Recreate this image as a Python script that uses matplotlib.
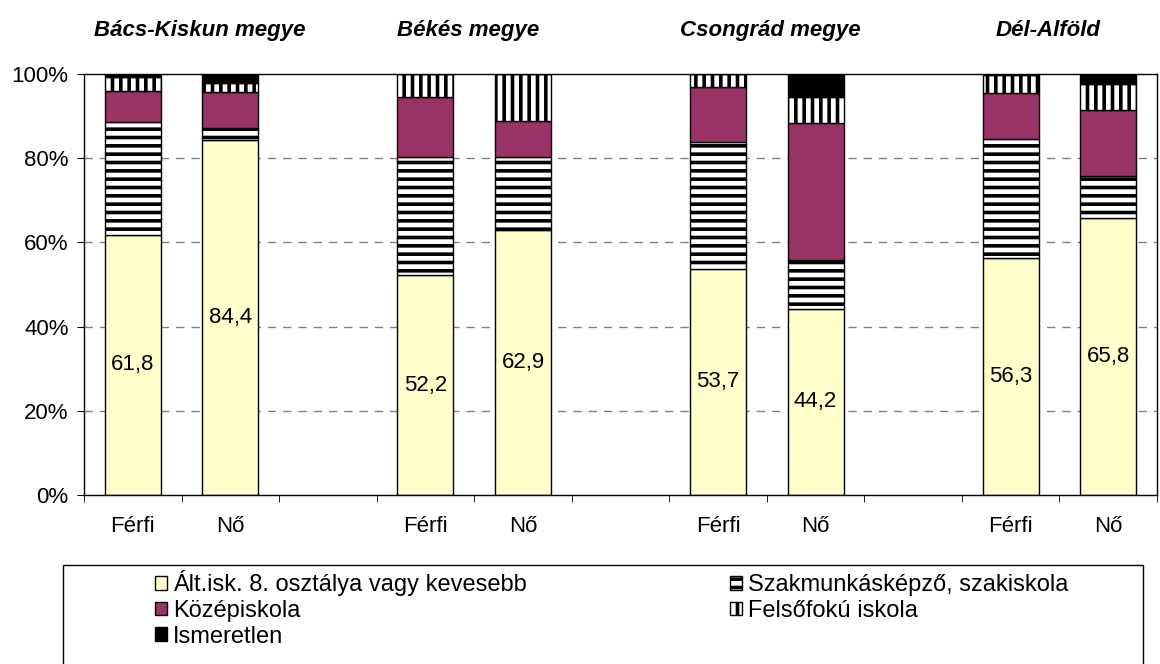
import matplotlib.pyplot as plt
from matplotlib.patches import Patch, Rectangle

plt.rcParams["font.family"] = ["Liberation Sans", "DejaVu Sans"]
plt.rcParams["hatch.linewidth"] = 2.6

regions = ["Bács-Kiskun megye", "Békés megye", "Csongrád megye", "Dél-Alföld"]
sexes = ["Férfi", "Nő"]
categories = [
    "Ált.isk. 8. osztálya vagy kevesebb",
    "Szakmunkásképző, szakiskola",
    "Középiskola",
    "Felsőfokú iskola",
    "Ismeretlen",
]

# percent shares, order: BK Férfi, BK Nő, Békés Férfi, Békés Nő, Csongrád Férfi, Csongrád Nő, DA Férfi, DA Nő
alt_isk = [61.8, 84.4, 52.2, 62.9, 53.7, 44.2, 56.3, 65.8]
szakmunkas = [26.9, 2.7, 28.2, 17.4, 30.2, 11.6, 28.3, 10.0]
kozep = [7.3, 8.6, 14.2, 8.5, 13.1, 32.5, 10.8, 15.6]
felso = [3.2, 2.1, 5.4, 11.2, 3.0, 6.3, 4.3, 6.2]
ismeretlen = [0.8, 2.2, 0.0, 0.0, 0.0, 5.4, 0.3, 2.4]

series = [alt_isk, szakmunkas, kozep, felso, ismeretlen]
colors = ["#FFFFCC", "white", "#993366", "white", "black"]
hatches = [None, "--", None, "||", None]

# bar slots: two bars per region, one empty slot between regions
x = []
for i in range(len(regions)):
    x += [3 * i, 3 * i + 1]

fig = plt.figure(figsize=(11.6, 6.64), dpi=100)
ax = fig.add_axes([84 / 1160, 1 - 495 / 664, 1073 / 1160, 421 / 664])

bottom = [0.0] * len(x)
for vals, col, h in zip(series, colors, hatches):
    ax.bar(x, vals, width=0.575, bottom=bottom, color=col, hatch=h,
           edgecolor="black", linewidth=1.0, zorder=2)
    bottom = [b + v for b, v in zip(bottom, vals)]

for xi, v in zip(x, alt_isk):
    ax.text(xi, v / 2, f"{v:.1f}".replace(".", ","), ha="center", va="center",
            fontsize=16, zorder=3)

ax.set_xlim(-0.5, 10.5)
ax.set_ylim(0, 100)
ax.set_yticks(range(0, 101, 20))
ax.set_yticklabels([f"{t}%" for t in range(0, 101, 20)], fontsize=16)
ax.set_xticks(x)
ax.set_xticklabels(sexes * len(regions), fontsize=16)
ax.tick_params(axis="x", length=0, pad=15)
ax.tick_params(axis="y", length=5, pad=6, direction="out")
ax.set_xticks([i - 0.5 for i in range(12)], minor=True)
ax.tick_params(axis="x", which="minor", length=5, direction="out")
for y in [20, 40, 60, 80]:
    ax.axhline(y, color="#808080", linewidth=1.0, dashes=(6, 5), zorder=1)
for s in ax.spines.values():
    s.set_color("black")
    s.set_linewidth(1.0)

title_x = [0.69, 3.44, 6.54, 9.38]
for tx, name in zip(title_x, regions):
    ax.text(tx, 109.0, name, ha="center", va="baseline", fontsize=16,
            fontweight="bold", fontstyle="italic")

# legend, row-major order like the original
handles = [Patch(facecolor=c, edgecolor="black", hatch=h) for c, h in zip(colors, hatches)]
order = [0, 2, 4, 1, 3]
fig.patches.append(Rectangle((63 / 1160, -0.1), (1143 - 63) / 1160, 0.1 + (664 - 565) / 664,
                             transform=fig.transFigure, facecolor="white",
                             edgecolor="black", linewidth=1.0, zorder=0))
fig.legend([handles[i] for i in order], [categories[i] for i in order],
           loc="upper left", bbox_to_anchor=(146 / 1160, 1 - 561 / 664), ncol=2,
           frameon=False, fontsize=17, handlelength=0.5, handleheight=0.5,
           handletextpad=0.25, labelspacing=0.15, columnspacing=8.6, borderaxespad=0)

fig.savefig("out.png", dpi=100)
